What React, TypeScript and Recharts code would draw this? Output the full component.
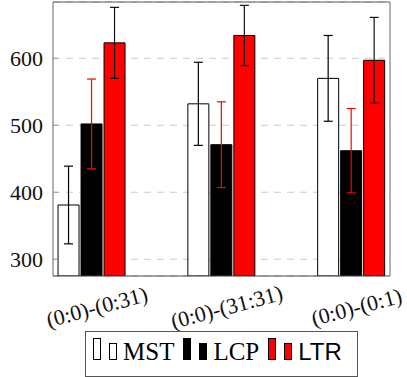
import React from 'react';
import { BarChart, Bar, XAxis, YAxis, CartesianGrid, ErrorBar, Legend } from 'recharts';

const categories = ['(0:0)-(0:31)', '(0:0)-(31:31)', '(0:0)-(0:1)'];
const categoryPositions = [0, 1, 2];
const mstValues = [381, 532, 570];
const mstErrors = [58, 62, 64];
const lcpValues = [502, 471, 462];
const lcpErrors = [67, 64, 63];
const ltrValues = [623, 634, 597];
const ltrErrors = [53, 45, 64];
const yTicks = [300, 400, 500, 600];
const yDomain: [number, number] = [275, 684];
const xDomain: [number, number] = [-0.3, 2.296];

const SERIF = '"Liberation Serif", "Times New Roman", Times, "DejaVu Serif", serif';
const SANS = '"Liberation Sans", Arial, Helvetica, sans-serif';

const data = categories.map((name, i) => ({
  pos: categoryPositions[i],
  name,
  mst: mstValues[i],
  mstErr: mstErrors[i],
  lcp: lcpValues[i],
  lcpErr: lcpErrors[i],
  ltr: ltrValues[i],
  ltrErr: ltrErrors[i],
}));

const series = [
  { key: 'mst', name: 'MST', fill: '#ffffff', err: '#000000', font: SERIF, size: 25 },
  { key: 'lcp', name: 'LCP', fill: '#000000', err: '#ff0000', font: SERIF, size: 25 },
  { key: 'ltr', name: 'LTR', fill: '#ff0000', err: '#111111', font: SANS, size: 24 },
];

const XTick = (props: any) => {
  const { x, y, payload } = props;
  const label = categories[Math.round(payload.value)] ?? '';
  const cx = x + 5;
  const cy = y + 31;
  return (
    <text
      x={cx}
      y={cy}
      textAnchor="middle"
      dominantBaseline="central"
      transform={`rotate(-15, ${cx}, ${cy})`}
      style={{ fontFamily: SERIF, fontSize: 22 }}
      fill="#111"
    >
      {label}
    </text>
  );
};

const YTick = (props: any) => {
  const { x, y, payload } = props;
  return (
    <text
      x={x}
      y={y}
      textAnchor="end"
      dominantBaseline="central"
      style={{ fontFamily: SERIF, fontSize: 22 }}
      fill="#111"
    >
      {payload.value}
    </text>
  );
};

const LegendBox = () => (
  <div
    style={{
      boxSizing: 'border-box',
      width: 273,
      height: 46,
      border: '1px solid #555',
      background: '#fff',
      display: 'flex',
      alignItems: 'flex-end',
      paddingLeft: 7,
      paddingBottom: 12,
    }}
  >
    {series.map((s, i) => (
      <div key={s.key} style={{ display: 'flex', alignItems: 'flex-end', marginLeft: i ? 9 : 0 }}>
        <div
          style={{
            boxSizing: 'border-box',
            width: 8,
            height: 22,
            border: '1px solid #000',
            background: s.fill,
            marginBottom: 4,
          }}
        />
        <div
          style={{
            boxSizing: 'border-box',
            width: 8,
            height: 17,
            border: '1px solid #000',
            background: s.fill,
            marginBottom: 4,
            marginLeft: 8,
          }}
        />
        <span
          style={{
            fontFamily: s.font,
            fontSize: s.size,
            lineHeight: 1,
            marginLeft: 6,
            color: '#000',
          }}
        >
          {s.name}
        </span>
      </div>
    ))}
  </div>
);

export default function App() {
  return (
    <div style={{ position: 'absolute', left: 0, top: 0, width: 407, height: 377, background: '#fff' }}>
      <BarChart
        width={407}
        height={377}
        data={data}
        margin={{ top: 0, right: 0, bottom: 0, left: 0 }}
        barSize={21}
        barGap={2}
        style={{ fontFamily: SERIF }}
      >
        <CartesianGrid vertical={false} stroke="#cccccc" strokeDasharray="7 6" />
        <XAxis
          dataKey="pos"
          type="number"
          domain={xDomain}
          ticks={categoryPositions}
          allowDataOverflow
          height={101}
          tickLine={false}
          tickSize={0}
          tickMargin={0}
          axisLine={{ stroke: '#444' }}
          tick={<XTick />}
          interval={0}
        />
        <XAxis
          xAxisId="top"
          dataKey="pos"
          type="number"
          domain={xDomain}
          orientation="top"
          height={2}
          tick={false}
          tickLine={false}
          axisLine={{ stroke: '#555' }}
        />
        <YAxis
          type="number"
          domain={yDomain}
          ticks={yTicks}
          allowDataOverflow
          width={53}
          tickSize={-5}
          tickMargin={15}
          axisLine={{ stroke: '#666' }}
          tickLine={{ stroke: '#999' }}
          tick={<YTick />}
        />
        <YAxis
          yAxisId="right"
          orientation="right"
          type="number"
          domain={yDomain}
          ticks={yTicks}
          allowDataOverflow
          width={17}
          tickSize={-5}
          tick={false}
          axisLine={{ stroke: '#666' }}
          tickLine={{ stroke: '#999' }}
        />
        <Legend
          verticalAlign="middle"
          align="center"
          layout="horizontal"
          content={<LegendBox />}
          wrapperStyle={{ left: 85, top: 331, width: 273, height: 46 }}
        />
        {series.map((s) => (
          <Bar
            key={s.key}
            dataKey={s.key}
            name={s.name}
            fill={s.fill}
            stroke="#000"
            strokeWidth={1}
            isAnimationActive={false}
          >
            <ErrorBar dataKey={`${s.key}Err`} width={4.5} stroke={s.err} strokeWidth={1.2} />
          </Bar>
        ))}
      </BarChart>
    </div>
  );
}
